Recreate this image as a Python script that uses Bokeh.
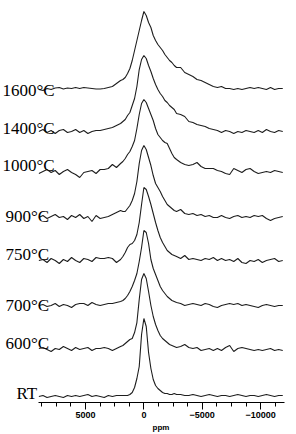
from bokeh.plotting import figure
from bokeh.models import Range1d, SingleIntervalTicker, Title
from bokeh.core.properties import value
from bokeh.embed import file_html
from bokeh.resources import INLINE

# chemical shift grid (ppm)
ppm = [9000, 8650, 8300, 7950, 7600, 7250, 6900, 6550, 6200, 5850, 5500, 5150, 4800, 4450,
       4100, 3750, 3400, 3050, 2700, 2350, 2000,
       1800, 1600, 1400, 1200, 1000, 800, 600, 400, 200, 0, -200, -400, -600, -800, -1000,
       -1200, -1400, -1600, -1800, -2000, -2200, -2400, -2600, -2800,
       -3150, -3500, -3850, -4200, -4550, -4900, -5250, -5600, -5950, -6300, -6650, -7000,
       -7350, -7700, -8050, -8400, -8750, -9100, -9450, -9800, -10150, -10500, -10850,
       -11200, -11550, -11900]

s1600 = [0, -1, 1, 0, 1.5, 2, 0.5, 1.5, 1, 2, 1, 2, 1.5, 1, 0.5, 0.5, 1, 2, 3, 6, 9,
         10, 12, 16, 21, 29, 39, 49, 59, 69, 78, 74, 67, 62, 54, 49, 45, 42, 39, 35, 32, 29, 27, 24, 22,
         22, 17, 15, 13, 10, 9, 7, 5, 3, 2, 3, 1, 1, 0, 1, 0, 1, 2, 1, 2, 1, 0, 2, 0, 1, 1]
s1400 = [0, 2, -1, 1, -2, 1, 2, -1, 0, 2, -1, 1, -2, 0, 1, 1, 2, 3, 4, 6, 8,
         10, 12, 16, 19, 26, 33, 45, 62, 72, 76, 73, 66, 60, 53, 47, 42, 38, 35, 31, 29, 26, 24, 22, 18,
         17, 15, 10, 9, 7, 6, 5, 3, 2, 1, -1, 1, 0, -2, 0, -1, 1, 0, -1, 1, -1, 2, 0, -1, 1, 0]
s1000 = [-1, 1, 3, 0, 2, -2, 1, 3, 0, -2, -5, 0, 1, 2, -1, 3, 3, 4, 8, 5, 9,
         11, 14, 18, 21, 26, 32, 44, 58, 69, 73, 70, 64, 58, 52, 44, 38, 35, 32, 30, 29, 24, 19, 15, 13,
         10, 8, 7, 8, 10, 6, 4, 4, 4, 2, 1, -1, -2, 4, 2, 0, 3, 4, 1, -1, 0, 1, 0, 2, 1, 0]
s900 = [0, 2, -1, 1, 3, 0, 1, -2, 2, 0, 3, -1, 1, -4, 2, -1, 0, 1, 3, 5, 7,
        6, 6, 9, 12, 17, 24, 36, 54, 67, 72, 68, 60, 52, 42, 34, 30, 26, 21, 17, 13, 11, 9, 7, 6,
        8, 4, 3, 4, 2, 3, 1, 2, 0, 0, 2, 0, -1, 1, 2, 0, 1, 0, 2, 1, 2, -1, -3, -1, 0, 1]
s750 = [0, 1, -2, 2, 0, -3, 1, -1, 3, 0, -2, 2, 1, -1, 3, 2, 2, 3, 2, -2, 1,
        4, 8, 13, 16, 17, 20, 26, 38, 56, 73, 71, 64, 56, 47, 38, 30, 23, 18, 14, 10, 8, 6, 5, 4,
        2, 5, 1, 2, 1, 0, 2, 1, 3, 0, 2, 0, 1, -1, 2, -2, -3, 0, -1, 1, -2, 0, 1, 2, -1, 0]
s700 = [0, 1, -1, 0, 2, -1, 1, 0, -2, 1, 2, 2, 0, 3, 1, 0, 1, 2, 2, 3, 4,
        5, 7, 10, 14, 19, 25, 32, 44, 58, 75, 73, 62, 46, 37, 31, 25, 19, 15, 12, 9, 7, 5, 4, 3,
        2, 0, 1, 2, 1, 0, 2, 1, -1, -2, 0, 1, 2, 1, 2, 0, 1, 0, -1, -2, 0, 1, 0, -1, 0, 0]
s600 = [1, 2, 0, -2, 1, 0, 3, 1, -1, 2, 0, 1, 2, -1, 1, 1, 2, 1, -1, 1, 3,
        4, 6, 8, 10, 11, 17, 27, 50, 70, 76, 71, 58, 44, 33, 25, 19, 14, 11, 9, 7, 5, 4, 3, 2,
        3, 5, 2, 1, 2, -1, 0, 1, -1, 1, -1, 2, 4, -2, 1, 2, 1, 0, -1, 0, -1, 0, 1, -1, 0, -1]
sRT = [0, 1, -1, 0, 1, 0, -1, 1, 0, 1, 0, 1, 2, 0, 1, 0, -1, 1, 0, 1, 1,
       1, 1, 1, 2, 4, 9, 18, 30, 62, 78, 70, 44, 28, 17, 11, 8, 6, 4, 3, 3, 2, 2, 3, 2,
       2, 1, 1, 2, 1, 0, 1, 2, 1, 0, 1, 1, 0, 1, 2, 1, 0, 1, 1, 0, 1, 2, 1, 0, 1, 1]

labels = ["1600°C", "1400°C", "1000°C", "900°C", "750°C", "700°C", "600°C", "RT"]
spectra = [s1600, s1400, s1000, s900, s750, s700, s600, sRT]
offsets = [313, 271, 230, 185, 142, 97, 53, 6]
tick_interval = 5000
axis_title = "ppm"

# layout
W, H = 296, 434
scale = 85.7          # ppm per pixel
x0 = 143.4 * scale    # ppm at left canvas edge
x1 = (143.4 - W) * scale
bounds = (-12050, 9050)

p = figure(width=W, height=H, output_backend="svg", toolbar_location=None,
           x_range=Range1d(x0, x1), y_range=Range1d(0, 402),
           y_axis_location=None,
           min_border_left=0, min_border_right=0, min_border_top=0, min_border_bottom=32)
p.outline_line_color = None
p.xgrid.visible = False
p.ygrid.visible = False
p.background_fill_color = "white"

for s, off in zip(spectra, offsets):
    p.line(ppm, [off + v for v in s], line_color="#1e1e1e", line_width=1.1)

lab_px = [2, 2, 2, 5, 5, 5, 5, 16]
lab_y = [312, 274, 237, 186, 148, 97, 59, 9]
p.text(x=[x0 - px * scale for px in lab_px], y=lab_y, text=labels,
       text_font=value("Liberation Serif"), text_font_size="17px",
       text_baseline="alphabetic", text_align="left", text_color="black")

ax = p.xaxis[0]
ax.ticker = SingleIntervalTicker(interval=tick_interval, num_minor_ticks=4)
ax.bounds = bounds
ax.major_label_text_font = "Liberation Sans"
ax.major_label_text_font_style = "bold"
ax.major_label_text_font_size = "9px"
ax.major_label_standoff = 2
ax.major_tick_out = 7
ax.major_tick_in = 0
ax.minor_tick_out = 4
ax.minor_tick_in = 0
ax.axis_line_color = "black"
ax.major_tick_line_color = "black"
ax.minor_tick_line_color = "black"
ax.major_label_text_color = "black"

# axis title under the axis, placed at the middle of the axis line
p.add_layout(Title(text=axis_title, align="left", offset=152, standoff=0,
                   text_font="Liberation Sans", text_font_style="bold",
                   text_font_size="8px", text_color="black"), "below")

open("out.html", "w").write(file_html(p, INLINE))
